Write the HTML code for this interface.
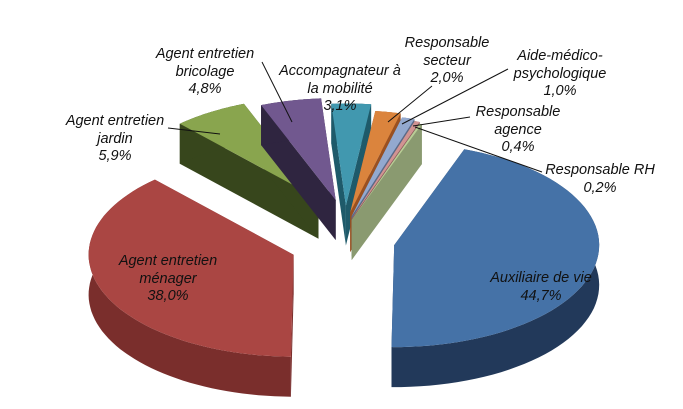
<!DOCTYPE html>
<html><head><meta charset="utf-8"><style>
html,body{margin:0;padding:0;background:#fff}
#wrap{position:relative;width:683px;height:409px;overflow:hidden}
.lbl{position:absolute;font-family:"Liberation Sans",sans-serif;font-style:italic;font-size:14.5px;line-height:17.5px;color:#111;text-align:center;white-space:nowrap;transform:translateX(-50%)}
</style></head><body>
<div id="wrap">
<svg id="chart" width="683" height="409"></svg>
</div>
<script>
const categories = ["Auxiliaire de vie","Agent entretien ménager","Agent entretien jardin","Agent entretien bricolage","Accompagnateur à la mobilité","Responsable secteur","Aide-médico-psychologique","Responsable agence","Responsable RH"];
const values = [44.7,38.0,5.9,4.8,3.1,2.0,1.0,0.4,0.2];
const valueLabels = ["44,7%","38,0%","5,9%","4,8%","3,1%","2,0%","1,0%","0,4%","0,2%"];
const explode = [50,55,50,42,35,28,24,22,20];
const topColors = ["#4572a7","#aa4643","#89a54e","#71588f","#4198af","#db843d","#93a9cf","#d19392","#b9cd96"];
const sideColors = ["#22395a","#7a2e2c","#37461c","#2f2540","#1e5a6a","#9a5020","#5a6a88","#8a5a5a","#8a9a70"];
const labelPos = [[541,270],[168,253],[115,113],[205,46],[340,63],[447,35],[560,48],[518,104],[600,162]];
const leaders = [null,null,[168,128,220,134],[262,62,292,122],null,[432,86,388,122],[508,69,402,124],[470,117,413,126],[542,172,415,127]];

const NS="http://www.w3.org/2000/svg";
const svg=document.getElementById('chart');
const cx=345,cy=237,rx=205,ry=102,depth=40,startDeg=20;
const total=values.reduce((a,b)=>a+b,0);
function pt(ox,oy,deg,dy){const r=deg*Math.PI/180;return [ox+rx*Math.sin(r),oy-ry*Math.cos(r)+(dy||0)];}
function poly(points,fill,name){const p=document.createElementNS(NS,'polygon');p.setAttribute('points',points.map(q=>q[0].toFixed(1)+','+q[1].toFixed(1)).join(' '));p.setAttribute('fill',fill);


svg.appendChild(p);}
let acc=startDeg;const slices=[];
values.forEach((v,i)=>{const a0=acc,a1=acc+v/total*360;acc=a1;const mid=(a0+a1)/2*Math.PI/180;
slices.push({i,a0,a1,ox:cx+explode[i]*Math.sin(mid),oy:cy-explode[i]*Math.cos(mid)*0.9});});
const order=slices.slice().sort((a,b)=>a.oy-b.oy);
order.forEach(s=>{const {i,a0,a1,ox,oy}=s;const arcTop=[],arcBot=[];
for(let a=a0;a<=a1+0.001;a+=Math.max(0.5,(a1-a0)/60)){arcTop.push(pt(ox,oy,a));arcBot.push(pt(ox,oy,a,depth));}
arcTop.push(pt(ox,oy,a1));arcBot.push(pt(ox,oy,a1,depth));
const c=[ox,oy],cb=[ox,oy+depth];
const e0=pt(ox,oy,a0),e0b=pt(ox,oy,a0,depth),e1=pt(ox,oy,a1),e1b=pt(ox,oy,a1,depth);
poly([c,e0,e0b,cb],sideColors[i],'slice-wall-start-'+i);
poly([c,e1,e1b,cb],sideColors[i],'slice-wall-end-'+i);
poly(arcTop.concat(arcBot.slice().reverse()),sideColors[i],'slice-side-'+i);
poly([c].concat(arcTop),topColors[i],'slice-'+i);
});
leaders.forEach((l,i)=>{if(!l)return;const ln=document.createElementNS(NS,'line');
ln.setAttribute('x1',l[0]);ln.setAttribute('y1',l[1]);ln.setAttribute('x2',l[2]);ln.setAttribute('y2',l[3]);ln.setAttribute('stroke','#111');ln.setAttribute('stroke-width','1');


svg.appendChild(ln);});
const labelLines=[["Auxiliaire de vie"],["Agent entretien","ménager"],["Agent entretien","jardin"],["Agent entretien","bricolage"],["Accompagnateur à","la mobilité"],["Responsable","secteur"],["Aide-médico-","psychologique"],["Responsable","agence"],["Responsable RH"]];
const wrap=document.getElementById('wrap');
labelLines.forEach((ls,i)=>{const d=document.createElement('div');d.className='lbl';
d.style.left=labelPos[i][0]+'px';d.style.top=labelPos[i][1]+'px';
d.innerHTML=ls.concat([valueLabels[i]]).join('<br>');


wrap.appendChild(d);});
</script>
</body></html>
